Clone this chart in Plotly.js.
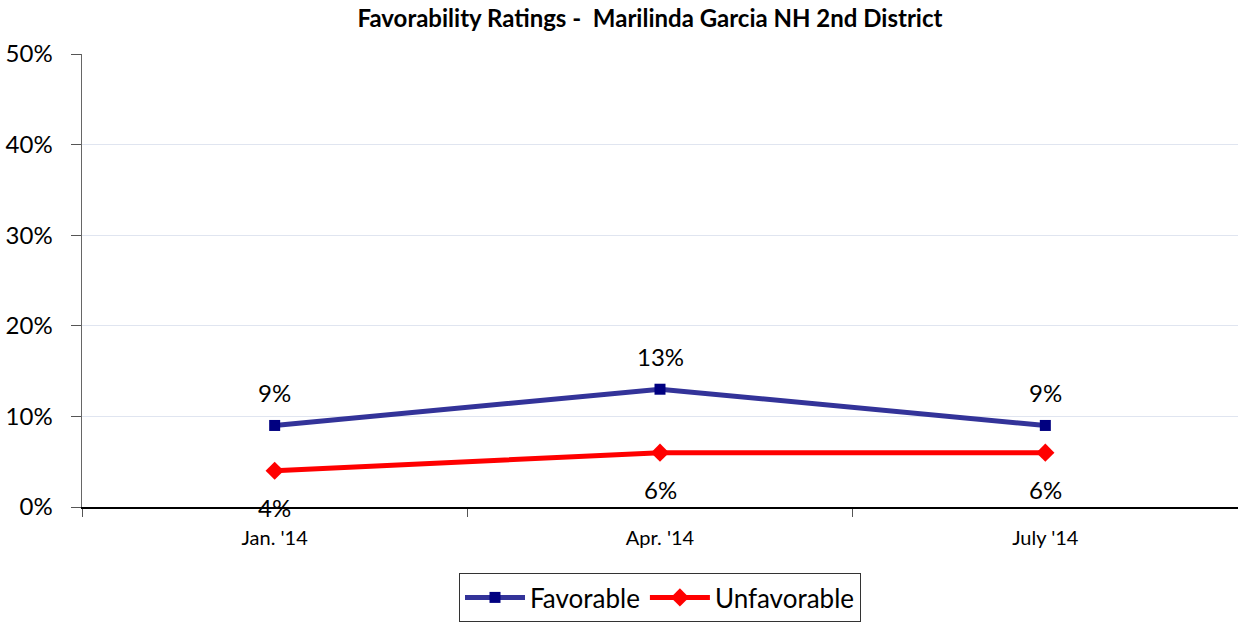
<!DOCTYPE html>
<html><head><meta charset="utf-8">
<script src="https://cdn.plot.ly/plotly-3.0.1.min.js"></script>
<style>html,body{margin:0;padding:0;background:#fff}#c{width:1238px;height:622px}</style>
</head><body><div id="c"></div>
<script>
const categories = ["Jan. '14", "Apr. '14", "July '14"];
const favorable = [0.09, 0.13, 0.09];
const unfavorable = [0.04, 0.06, 0.06];
const yTicks = [0, 0.1, 0.2, 0.3, 0.4, 0.5];
const yTickLabels = ["0%", "10%", "20%", "30%", "40%", "50%"];

const FONT = "Lato, 'Open Sans', sans-serif";
const traces = [
  {x: categories, y: favorable, name: "Favorable", type: "scatter", mode: "lines+markers",
   line: {color: "#333399", width: 5}, marker: {symbol: "square", size: 11, color: "#000080"}},
  {x: categories, y: unfavorable, name: "Unfavorable", type: "scatter", mode: "lines+markers",
   line: {color: "#ff0000", width: 5}, marker: {symbol: "diamond", size: 14, color: "#ff0000"}}
];
const fmt = v => Math.round(v * 100) + "%";
const annotations = [];
categories.forEach((c, i) => {
  annotations.push({x: c, y: favorable[i], xref: "x", yref: "y", text: fmt(favorable[i]), showarrow: false, yshift: 33, font: {family: FONT, size: 24, color: "#000"}});
  annotations.push({x: c, y: unfavorable[i], xref: "x", yref: "y", text: fmt(unfavorable[i]), showarrow: false, yshift: -37, font: {family: FONT, size: 24, color: "#000"}});
});
const layout = {
  width: 1238, height: 622,
  margin: {l: 82, r: 0, t: 54, b: 114},
  paper_bgcolor: "#fff", plot_bgcolor: "#fff",
  font: {family: FONT, color: "#000"},
  title: {text: "<b>Favorability Ratings -  Marilinda Garcia NH 2nd District</b>", x: 0.525, xanchor: "center", y: 0.97, yanchor: "middle", font: {family: FONT, size: 24, color: "#000"}},
  xaxis: {type: "category", range: [-0.5, 2.5], showline: true, linecolor: "#000", linewidth: 1.5,
    ticks: "outside", tickson: "boundaries", ticklen: 8, tickcolor: "#555", showgrid: false, zeroline: false,
    tickfont: {family: FONT, size: 20, color: "#000"}, ticklabelstandoff: 12},
  yaxis: {range: [0, 0.5], tickvals: yTicks, ticktext: yTickLabels, showline: true, linecolor: "#666", linewidth: 1.5,
    ticks: "outside", ticklen: 10, tickcolor: "#555", showgrid: true, gridcolor: "#e0e5f0", gridwidth: 1, zeroline: false,
    tickfont: {family: FONT, size: 24, color: "#000"}, ticklabelstandoff: 13},
  showlegend: true,
  legend: {orientation: "h", x: 0.5, xanchor: "center", y: -0.145, yanchor: "top",
    bordercolor: "#333", borderwidth: 1, bgcolor: "#fff", font: {family: FONT, size: 26, color: "#000"},
    itemwidth: 60},
  annotations: annotations
};
Plotly.newPlot("c", traces, layout, {displayModeBar: false, staticPlot: true});
</script></body></html>
